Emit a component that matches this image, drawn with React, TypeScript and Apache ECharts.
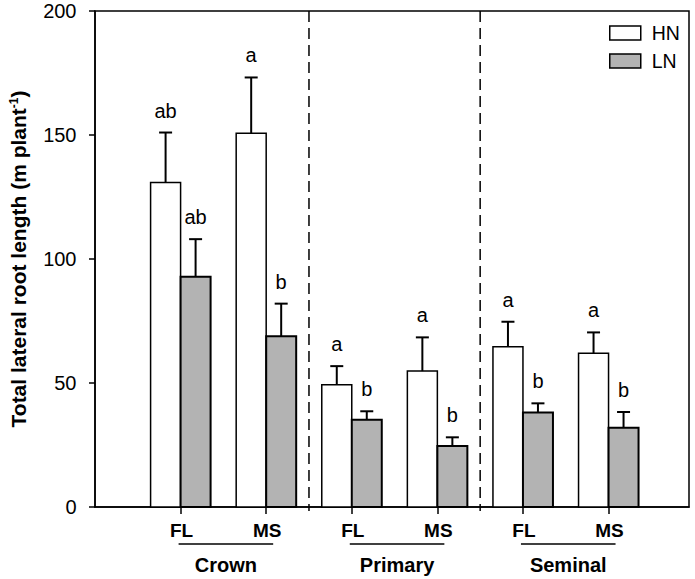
import React, { useEffect, useRef } from "react";
import * as echarts from "echarts";

// ---- data ----
const categories = ["FL", "MS", "FL", "MS", "FL", "MS"];
const groups = ["Crown", "Primary", "Seminal"];
const groupMembers = [
  [1, 2],
  [3, 4],
  [5, 6],
];
const hnMean = [130.8, 150.7, 49.3, 54.8, 64.6, 62.0];
const hnSE = [20.2, 22.5, 7.5, 13.6, 10.1, 8.4];
const lnMean = [92.8, 68.9, 35.2, 24.6, 38.1, 32.0];
const lnSE = [15.2, 13.1, 3.4, 3.5, 3.7, 6.3];
const hnLetters = ["ab", "a", "a", "a", "a", "a"];
const lnLetters = ["ab", "b", "b", "b", "b", "b"];
const dividers = [2.5, 4.5];

const FONT = "'Liberation Sans', Arial, Helvetica, sans-serif";
const LN_FILL = "#b3b3b3";

function barRender(side: number, fill: string, lw: number, letters: string[]) {
  return (params: any, api: any) => {
    const x = api.value(0);
    const mean = api.value(1);
    const se = api.value(2);
    const base = api.coord([x, 0]);
    const top = api.coord([x, mean]);
    const errTop = api.coord([x, mean + se]);
    const w = 30;
    const left = side < 0 ? base[0] - w : base[0];
    const cx = left + w / 2;
    return {
      type: "group",
      children: [
        {
          type: "rect",
          shape: { x: left, y: top[1], width: w, height: base[1] - top[1] },
          style: { fill, stroke: "#000", lineWidth: lw },
        },
        {
          type: "line",
          shape: { x1: cx, y1: top[1], x2: cx, y2: errTop[1] },
          style: { stroke: "#000", lineWidth: 2 },
        },
        {
          type: "line",
          shape: { x1: cx - 6.5, y1: errTop[1], x2: cx + 6.5, y2: errTop[1] },
          style: { stroke: "#000", lineWidth: 2 },
        },
        {
          type: "text",
          x: cx,
          y: errTop[1] - 12,
          style: {
            text: letters[params.dataIndex],
            fill: "#000",
            fontSize: 20,
            fontFamily: FONT,
            align: "center",
            verticalAlign: "bottom",
          },
        },
      ],
    };
  };
}

export default function App() {
  const ref = useRef<HTMLDivElement>(null);

  useEffect(() => {
    if (!ref.current) return;
    const chart = echarts.init(ref.current, undefined, { renderer: "svg" });

    const option: any = {
      animation: false,
      backgroundColor: "#fff",
      grid: {
        left: 95,
        right: 6,
        top: 11,
        bottom: 72,
        show: true,
        borderColor: "#000",
        borderWidth: 1.5,
        backgroundColor: "transparent",
      },
      legend: {
        orient: "vertical",
        left: 609,
        top: 23,
        padding: 0,
        itemWidth: 31,
        itemHeight: 14,
        itemGap: 8,
        icon: "rect",
        selectedMode: false,
        textStyle: { fontSize: 19.5, color: "#000", fontFamily: FONT, padding: [0, 0, 0, 6] },
        data: [
          { name: "HN", itemStyle: { color: "#fff", borderColor: "#000", borderWidth: 1.5 } },
          { name: "LN", itemStyle: { color: LN_FILL, borderColor: "#000", borderWidth: 1.5 } },
        ],
      },
      xAxis: {
        type: "value",
        min: 0,
        max: 6.94,
        interval: 1,
        axisLine: { show: true, lineStyle: { color: "#000", width: 1.5 } },
        axisTick: {
          show: true,
          length: 7,
          customValues: [1, 2, 3, 4, 5, 6],
          lineStyle: { color: "#000", width: 1.5 },
        },
        axisLabel: { show: false },
        splitLine: { show: false },
      },
      yAxis: {
        type: "value",
        min: 0,
        max: 200,
        interval: 50,
        axisLine: { show: true, lineStyle: { color: "#000", width: 1.5 } },
        axisTick: { show: true, length: 6, lineStyle: { color: "#000", width: 1.5 } },
        axisLabel: { color: "#000", fontSize: 20, margin: 18.5, fontFamily: FONT },
        splitLine: { show: false },
        name: "Total lateral root length (m plant{sup|-1})",
        nameLocation: "middle",
        nameGap: 66,
        nameTextStyle: {
          fontSize: 21,
          fontWeight: "bold",
          fontFamily: FONT,
          color: "#000",
          rich: {
            sup: { fontSize: 12, fontWeight: "bold", fontFamily: FONT, color: "#000", verticalAlign: "top" },
          },
        },
      },
      series: [
        {
          name: "HN",
          type: "custom",
          itemStyle: { color: "#fff", borderColor: "#000" },
          data: hnMean.map((m, i) => [i + 1, m, hnSE[i]]),
          renderItem: barRender(-1, "#fff", 1.5, hnLetters),
          z: 3,
        },
        {
          name: "LN",
          type: "custom",
          itemStyle: { color: LN_FILL, borderColor: "#000" },
          data: lnMean.map((m, i) => [i + 1, m, lnSE[i]]),
          renderItem: barRender(1, LN_FILL, 2, lnLetters),
          z: 3,
        },
        {
          name: "dividers",
          type: "custom",
          data: dividers.map((d) => [d]),
          renderItem: (params: any, api: any) => {
            const x = api.value(0);
            const top = api.coord([x, 200]);
            const base = api.coord([x, 0]);
            return {
              type: "group",
              children: [
                {
                  type: "line",
                  shape: { x1: top[0], y1: top[1], x2: base[0], y2: base[1] },
                  style: { stroke: "#000", lineWidth: 1.5, lineDash: [11, 6] },
                },
                {
                  type: "line",
                  shape: { x1: base[0], y1: base[1], x2: base[0], y2: base[1] + 4 },
                  style: { stroke: "#000", lineWidth: 1.5 },
                },
              ],
            };
          },
          z: 2,
        },
        {
          name: "catLabels",
          type: "custom",
          data: categories.map((c, i) => [i + 1]),
          renderItem: (params: any, api: any) => {
            const x = api.value(0);
            const base = api.coord([x, 0]);
            return {
              type: "text",
              x: base[0] + 1,
              y: base[1] + 23,
              style: {
                text: categories[params.dataIndex],
                fill: "#000",
                fontSize: 19,
                fontWeight: "bold",
                fontFamily: FONT,
                align: "center",
                verticalAlign: "middle",
              },
            };
          },
        },
        {
          name: "groupLabels",
          type: "custom",
          data: groupMembers.map((g) => [g[0], g[1]]),
          renderItem: (params: any, api: any) => {
            const a = api.coord([api.value(0), 0]);
            const b = api.coord([api.value(1), 0]);
            const x1 = a[0] - 2;
            const x2 = b[0] + 7;
            return {
              type: "group",
              children: [
                {
                  type: "line",
                  shape: { x1, y1: a[1] + 37, x2, y2: a[1] + 37 },
                  style: { stroke: "#000", lineWidth: 1.5 },
                },
                {
                  type: "text",
                  x: (x1 + x2) / 2,
                  y: a[1] + 58,
                  style: {
                    text: groups[params.dataIndex],
                    fill: "#000",
                    fontSize: 20,
                    fontWeight: "bold",
                    fontFamily: FONT,
                    align: "center",
                    verticalAlign: "middle",
                  },
                },
              ],
            };
          },
        },
      ],
    };

    chart.setOption(option);
    return () => chart.dispose();
  }, []);

  return (
    <div
      ref={ref}
      style={{ position: "fixed", left: 0, top: 0, width: 695, height: 579, background: "#fff" }}
    />
  );
}
